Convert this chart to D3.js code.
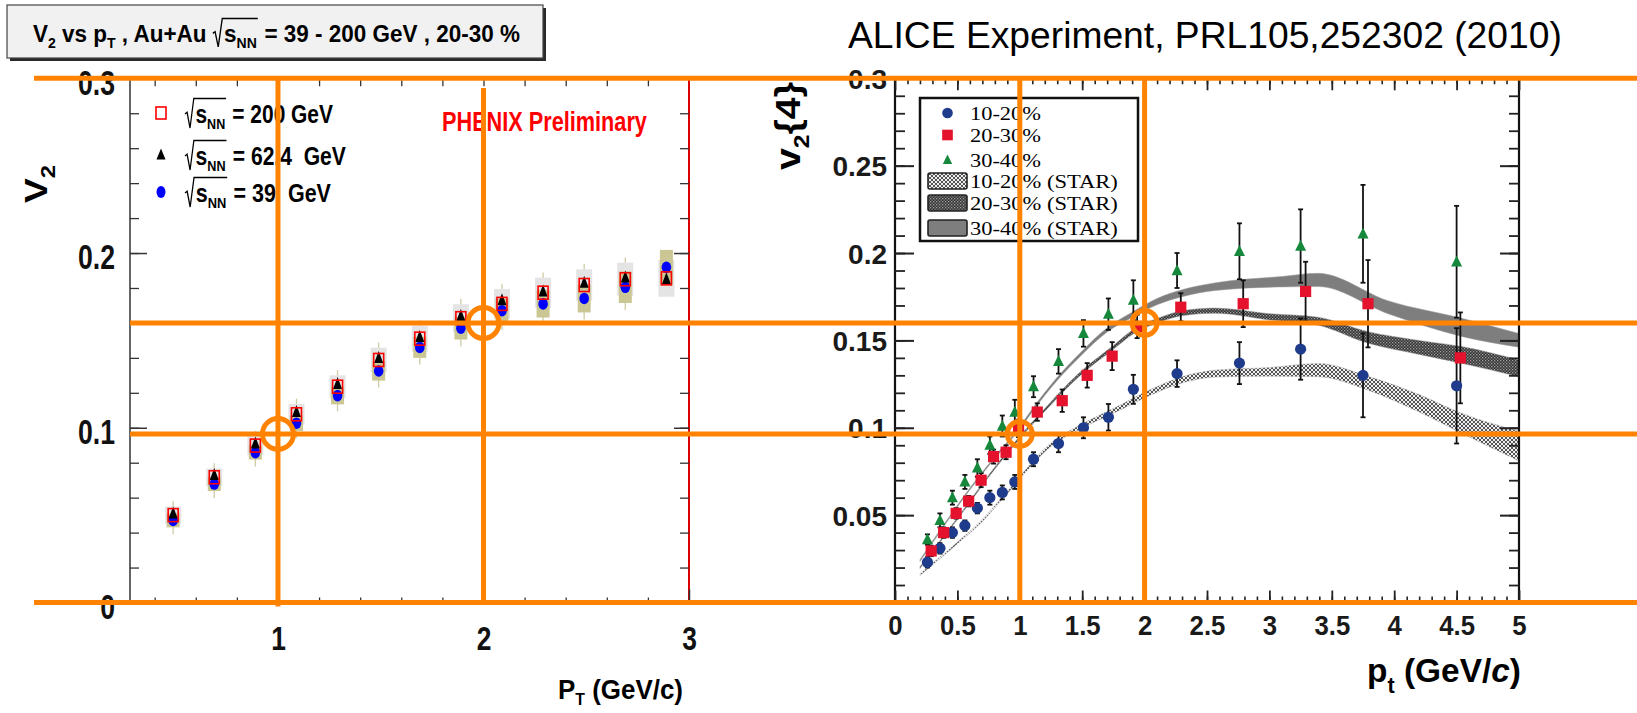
<!DOCTYPE html>
<html><head><meta charset="utf-8">
<script src="https://cdn.jsdelivr.net/npm/d3@7"></script>
<style>body{margin:0;background:#fff}svg{display:block}text{white-space:pre}</style>
</head><body>
<script>
// ---------------- DATA ----------------
// Left panel: PHENIX Au+Au 20-30 %
const phenixPt      = [0.49,0.69,0.89,1.09,1.29,1.49,1.69,1.89,2.09,2.29,2.49,2.69,2.89];
const phenixV2_200  = [0.050,0.0717,0.0898,0.1077,0.1235,0.1388,0.151,0.1627,0.1709,0.1773,0.1817,0.185,0.1855];
const phenixV2_624  = [0.051,0.073,0.091,0.109,0.125,0.140,0.152,0.164,0.173,0.178,0.183,0.186,0.185];
const phenixV2_39   = [0.047,0.0678,0.0858,0.1026,0.1184,0.1325,0.146,0.157,0.167,0.1709,0.174,0.1804,0.1918];
const phenixSysGray = [0.005,0.005,0.0055,0.006,0.0065,0.007,0.0075,0.008,0.0085,0.0086,0.009,0.0095,0.0105];
const phenixSysOlive= [0.004,0.004,0.004,0.0045,0.005,0.0055,0.006,0.0065,0.007,0.0078,0.008,0.009,0.010];
const phenixLegend  = ['200 GeV','62.4  GeV','39  GeV'];
const phenixYTicks  = [0,0.1,0.2,0.3];
const phenixXTicks  = [1,2,3];

// Right panel: ALICE v2{4}
const alicePt       = [0.26,0.36,0.46,0.56,0.66,0.76,0.86,0.96,1.11,1.31,1.51,1.71,1.91,2.26,2.76,3.25,3.75,4.5];
const alicePtRed    = [0.29,0.39,0.49,0.59,0.69,0.79,0.89,0.99,1.14,1.34,1.54,1.74,1.94,2.29,2.79,3.29,3.79,4.53];
const v2_10_20      = [0.023,0.031,0.040,0.044,0.054,0.060,0.063,0.069,0.082,0.091,0.100,0.106,0.122,0.131,0.137,0.145,0.130,0.124];
const err_10_20     = [0.003,0.003,0.003,0.003,0.003,0.004,0.004,0.004,0.004,0.005,0.006,0.0076,0.0083,0.0076,0.012,0.0175,0.024,0.033];
const v2_20_30      = [0.0295,0.040,0.051,0.058,0.070,0.0835,0.086,0.0997,0.109,0.1155,0.130,0.141,0.158,0.169,0.171,0.178,0.171,0.140];
const err_20_30     = [0.003,0.003,0.003,0.003,0.004,0.004,0.004,0.005,0.005,0.0064,0.007,0.008,0.0067,0.008,0.0134,0.017,0.025,0.026];
const v2_30_40      = [0.036,0.047,0.060,0.069,0.077,0.090,0.101,0.109,0.1235,0.138,0.154,0.165,0.173,0.190,0.201,0.204,0.211,0.195];
const err_30_40     = [0.003,0.004,0.004,0.004,0.005,0.005,0.006,0.007,0.006,0.007,0.0076,0.009,0.0114,0.010,0.016,0.021,0.028,0.032];

// STAR bands (centre and half width)
const star10_20_pt = [0.2,0.45,0.7,0.9,1.05,1.22,1.49,1.76,2.03,2.3,2.57,3.0,3.39,3.79,4.2,4.54,5.0];
const star10_20_v  = [0.016,0.031,0.047,0.063,0.0755,0.0885,0.1006,0.110,0.1197,0.1274,0.131,0.132,0.133,0.1255,0.114,0.1026,0.0895];
const star10_20_hw = [0.0005,0.0005,0.0006,0.0007,0.0008,0.001,0.0012,0.0014,0.0016,0.0018,0.002,0.0025,0.0038,0.004,0.005,0.0057,0.0085];
const star20_30_pt = [0.2,0.5,0.8,1.03,1.21,1.47,1.75,1.91,2.13,2.3,2.56,3.0,3.39,3.79,4.2,4.54,5.0];
const star20_30_v  = [0.020,0.048,0.077,0.097,0.111,0.130,0.146,0.155,0.162,0.1655,0.167,0.1635,0.161,0.1517,0.146,0.1417,0.134];
const star20_30_hw = [0.0005,0.0005,0.0006,0.0007,0.0008,0.001,0.0011,0.0012,0.0013,0.0014,0.0015,0.0018,0.0023,0.0033,0.004,0.0048,0.0048];
const star30_40_pt = [0.2,0.4,0.6,0.8,1.0,1.1,1.3,1.5,1.7,1.9,2.1,2.3,2.57,3.1,3.39,3.95,4.54,5.0];
const star30_40_v  = [0.024,0.045,0.065,0.083,0.100,0.110,0.128,0.143,0.156,0.1646,0.1722,0.177,0.1808,0.1836,0.1846,0.169,0.1575,0.150];
const star30_40_hw = [0.0005,0.0005,0.0005,0.0006,0.0007,0.0008,0.0009,0.001,0.0012,0.0015,0.0018,0.002,0.0022,0.003,0.0038,0.0037,0.0052,0.0039];

const aliceLegend = ['10-20%','20-30%','30-40%'];
const starLegend  = ['10-20% (STAR)','20-30% (STAR)','30-40% (STAR)'];
const aliceYTicks = [0.05,0.1,0.15,0.2,0.25,0.3];
const aliceXTicks = [0,0.5,1,1.5,2,2.5,3,3.5,4,4.5,5];

// orange annotation reference points
const refPt = [1,2];
const refV2 = [0.0965,0.160];

// ---------------- SETUP ----------------
const W = 1637, H = 713;
const SANS = "'Liberation Sans', Arial, Helvetica, sans-serif";
const NARROW = "'Liberation Sans Narrow','Arial Narrow','Liberation Sans',Arial,sans-serif";
const SERIF = "'Liberation Serif','Times New Roman',serif";
const ORANGE = '#ff8300';

const svg = d3.select('body').append('svg').attr('width', W).attr('height', H).attr('font-family', SANS);

const xL = d3.scaleLinear().domain([0.28, 3]).range([130, 689]);
const yV = d3.scaleLinear().domain([0, 0.3]).range([602.5, 78.3]);
const xR = d3.scaleLinear().domain([0, 5]).range([895, 1519]);

function measure(txt, family, size, weight) {
  const t = svg.append('text').attr('font-family', family).attr('font-size', size).attr('font-weight', weight).text(txt);
  const w = t.node().getComputedTextLength(); t.remove(); return w;
}
const kN = 37 / measure('0.2', NARROW, 35, 'bold');

function rich(parent, segs, o) {
  const outer = parent.append('g').attr('transform', `translate(${o.x},${o.y})` + (o.rotate ? ` rotate(${o.rotate})` : ''));
  const inner = outer.append('g');
  let cx = 0;
  const put = s => {
    const t = inner.append('text').attr('x', cx).attr('y', s.dy || 0)
      .attr('font-family', s.family || o.family || SANS).attr('font-size', s.size || o.size)
      .attr('font-weight', s.weight || o.weight || 'normal').attr('font-style', s.italic ? 'italic' : 'normal')
      .attr('fill', o.fill || '#000').text(s.t);
    cx += t.node().getComputedTextLength();
  };
  segs.forEach(s => {
    if (s.sqrt) {
      const sz = o.size, x0 = cx;
      cx += sz * 0.5;
      s.sqrt.forEach(put);
      inner.append('path')
        .attr('d', `M${x0},${-0.36*sz}L${x0+0.1*sz},${-0.43*sz}L${x0+0.24*sz},${0.2*sz}L${x0+0.42*sz},${-0.98*sz}L${cx+0.04*sz},${-0.98*sz}`)
        .attr('fill', 'none').attr('stroke', o.fill || '#000').attr('stroke-width', 0.06 * sz);
      cx += 0.06 * sz;
    } else put(s);
  });
  const k = o.width ? o.width / cx : (o.k || 1);
  const shift = o.anchor === 'middle' ? -cx * k / 2 : (o.anchor === 'end' ? -cx * k : 0);
  inner.attr('transform', `translate(${shift},0) scale(${k},1)`);
  return outer;
}

function tickAxis(g, axis, col, sw) {
  g.call(axis); g.select('.domain').remove();
  g.selectAll('.tick line').attr('stroke', col).attr('stroke-width', sw);
  return g;
}

// ---------------- LEFT PANEL ----------------
const gL = svg.append('g');
const [lx0, lx1] = xL.range();
gL.append('rect').attr('x', lx0).attr('y', yV(0.3)).attr('width', lx1 - lx0).attr('height', yV(0) - yV(0.3))
  .attr('fill', '#fff').attr('stroke', '#333').attr('stroke-width', 1.5);
gL.append('line').attr('x1', lx1).attr('x2', lx1).attr('y1', yV(0.3)).attr('y2', yV(0)).attr('stroke', '#d80000').attr('stroke-width', 2);

const phYMinor = d3.range(0.02, 0.3, 0.02);
const phXMinor = d3.range(0.4, 3.0, 0.2);
tickAxis(gL.append('g').attr('transform', `translate(${lx0},0)`), d3.axisLeft(yV).tickValues(phYMinor).tickSize(-9).tickFormat(''), '#333', 1.3);
tickAxis(gL.append('g').attr('transform', `translate(${lx1},0)`), d3.axisRight(yV).tickValues(phYMinor).tickSize(-9).tickFormat(''), '#333', 1.3);
tickAxis(gL.append('g').attr('transform', `translate(${lx1},0)`), d3.axisRight(yV).tickValues(phenixYTicks).tickSize(-15).tickFormat(''), '#333', 1.5);
tickAxis(gL.append('g').attr('transform', `translate(0,${yV(0.3)})`), d3.axisTop(xL).tickValues(phXMinor).tickSize(-8).tickFormat(''), '#333', 1.3);
tickAxis(gL.append('g').attr('transform', `translate(0,${yV(0)})`), d3.axisBottom(xL).tickValues(phXMinor).tickSize(-5).tickFormat(''), '#333', 1.3);

const gLy = tickAxis(gL.append('g').attr('transform', `translate(${lx0},0)`),
  d3.axisLeft(yV).tickValues(phenixYTicks).tickSize(-17).tickPadding(15).tickFormat(d3.format('~g')), '#333', 1.5);
gLy.selectAll('.tick text').attr('font-family', NARROW).attr('font-size', 35).attr('font-weight', 'bold').attr('fill', '#111')
  .attr('dy', '0.45em').attr('transform', `translate(-15,0) scale(${kN},1) translate(15,0)`);
const gLx = tickAxis(gL.append('g').attr('transform', `translate(0,${yV(0)})`),
  d3.axisBottom(xL).tickValues(phenixXTicks).tickSize(-13).tickPadding(24).tickFormat(d3.format('~g')), '#333', 1.5);
gLx.selectAll('.tick text').attr('font-family', NARROW).attr('font-size', 33).attr('font-weight', 'bold').attr('fill', '#111')
  .attr('transform', `scale(${kN * 1.05},1)`);

// systematic boxes
const gBox = gL.append('g');
phenixPt.forEach((p, i) => {
  const v2 = phenixV2_200[i], v3 = phenixV2_39[i], sg = phenixSysGray[i], so = phenixSysOlive[i];
  gBox.append('line').attr('x1', xL(p)).attr('x2', xL(p)).attr('y1', yV(v3 - so - 0.004)).attr('y2', yV(v2 + sg + 0.003))
    .attr('stroke', '#cfcca4').attr('stroke-width', 1.3);
  gBox.append('rect').attr('x', xL(p) - 8).attr('width', 16).attr('y', yV(v2 + sg)).attr('height', yV(v2 - sg) - yV(v2 + sg))
    .attr('fill', '#e4e4e4');
  gBox.append('rect').attr('x', xL(p) - 6.5).attr('width', 13).attr('y', yV(v3 + so)).attr('height', yV(v3 - so) - yV(v3 + so))
    .attr('fill', '#cbc795');
});
const triPath = (x, y, w, h) => `M${x},${y - h * 0.58}L${x + w / 2},${y + h * 0.42}L${x - w / 2},${y + h * 0.42}Z`;
gL.append('g').selectAll('ellipse').data(phenixPt).join('ellipse')
  .attr('cx', d => xL(d)).attr('cy', (d, i) => yV(phenixV2_39[i])).attr('rx', 4.8).attr('ry', 5.8).attr('fill', '#0000ff');
gL.append('g').selectAll('path').data(phenixPt).join('path')
  .attr('d', (d, i) => triPath(xL(d), yV(phenixV2_624[i]), 9, 12)).attr('fill', '#000');
gL.append('g').selectAll('rect').data(phenixPt).join('rect')
  .attr('x', d => xL(d) - 5).attr('y', (d, i) => yV(phenixV2_200[i]) - 6.5).attr('width', 10).attr('height', 13)
  .attr('fill', 'none').attr('stroke', '#ff0000').attr('stroke-width', 1.6);

// left legend
const legRowsL = [123, 165, 202];
legRowsL.forEach((yb, i) => {
  const cy = yb - 10, cx = 161;
  if (i === 0) gL.append('rect').attr('x', cx - 5).attr('y', cy - 6).attr('width', 10).attr('height', 12).attr('fill', 'none').attr('stroke', '#ff0000').attr('stroke-width', 1.6);
  if (i === 1) gL.append('path').attr('d', triPath(cx, cy, 9, 11)).attr('fill', '#000');
  if (i === 2) gL.append('ellipse').attr('cx', cx).attr('cy', cy).attr('rx', 4.5).attr('ry', 6).attr('fill', '#0000ff');
  rich(gL, [{sqrt: [{t: 's'}, {t: 'NN', size: 15, dy: 6}]}, {t: ' = ' + phenixLegend[i]}],
    {x: 185, y: yb, size: 25, weight: 'bold', family: NARROW, width: [148, 161, 146][i]});
});
rich(gL, [{t: 'PHENIX Preliminary'}], {x: 442, y: 131, size: 27, weight: 'bold', family: NARROW, width: 205, fill: '#ff0000'});

// left axis titles
rich(svg, [{t: 'V'}, {t: '2', size: 20, dy: 8}], {x: 47, y: 184, rotate: -90, anchor: 'middle', size: 31, weight: 'bold', family: NARROW, width: 38});
rich(svg, [{t: 'P'}, {t: 'T', size: 17, dy: 6}, {t: ' (GeV/c)'}], {x: 558, y: 699, size: 28, weight: 'bold', family: NARROW, width: 125});

// title box
svg.append('rect').attr('x', 10).attr('y', 8).attr('width', 536).attr('height', 53).attr('fill', '#2a2a2a');
svg.append('rect').attr('x', 7).attr('y', 5).attr('width', 536).attr('height', 53).attr('fill', '#f1f1f1').attr('stroke', '#444').attr('stroke-width', 1.2);
rich(svg, [{t: 'V'}, {t: '2', size: 15, dy: 6}, {t: ' vs p'}, {t: 'T', size: 15, dy: 6}, {t: ' , Au+Au '},
  {sqrt: [{t: 's'}, {t: 'NN', size: 15, dy: 6}]}, {t: ' = 39 - 200 GeV , 20-30 %'}],
  {x: 33, y: 42, size: 24, weight: 'bold', family: NARROW, width: 487});

// ---------------- RIGHT PANEL ----------------
const defs = svg.append('defs');
const p10 = defs.append('pattern').attr('id', 'pat10').attr('patternUnits', 'userSpaceOnUse').attr('width', 4).attr('height', 4);
p10.append('rect').attr('width', 4).attr('height', 4).attr('fill', '#eeeeee');
p10.append('path').attr('d', 'M0,0L4,4M4,0L0,4').attr('stroke', '#444').attr('stroke-width', 0.9);
const p20 = defs.append('pattern').attr('id', 'pat20').attr('patternUnits', 'userSpaceOnUse').attr('width', 3).attr('height', 3);
p20.append('rect').attr('width', 3).attr('height', 3).attr('fill', '#333');
p20.append('rect').attr('x', 0).attr('y', 0).attr('width', 1.3).attr('height', 1.3).attr('fill', '#a0a0a0');
p20.append('rect').attr('x', 1.5).attr('y', 1.5).attr('width', 1.3).attr('height', 1.3).attr('fill', '#8a8a8a');
const bandFills = ['url(#pat10)', 'url(#pat20)', '#7e7e7e'];

const gR = svg.append('g');
const [rx0, rx1] = xR.range();
gR.append('rect').attr('x', rx0).attr('y', yV(0.3)).attr('width', rx1 - rx0).attr('height', yV(0) - yV(0.3)).attr('fill', '#fff');

const bandArea = d3.area().x(d => xR(d.pt)).y0(d => yV(d.v - d.hw)).y1(d => yV(d.v + d.hw)).curve(d3.curveMonotoneX);
const bands = [
  star10_20_pt.map((p, i) => ({pt: p, v: star10_20_v[i], hw: star10_20_hw[i]})),
  star20_30_pt.map((p, i) => ({pt: p, v: star20_30_v[i], hw: star20_30_hw[i]})),
  star30_40_pt.map((p, i) => ({pt: p, v: star30_40_v[i], hw: star30_40_hw[i]}))
];
bands.forEach((b, i) => gR.append('path').attr('d', bandArea(b)).attr('fill', bandFills[i])
  .attr('stroke', ['#bbb', '#999', '#9a9a9a'][i]).attr('stroke-width', 0.5));

const series = [
  {pt: alicePt, v: v2_10_20, e: err_10_20, col: '#1f3c8c', shape: 'circle'},
  {pt: alicePtRed, v: v2_20_30, e: err_20_30, col: '#e4122c', shape: 'square'},
  {pt: alicePt, v: v2_30_40, e: err_30_40, col: '#15883c', shape: 'triangle'}
];
const gErr = gR.append('g').attr('stroke', '#111').attr('stroke-width', 1.8);
series.forEach(s => s.pt.forEach((p, i) => {
  const x = xR(p), y1 = yV(s.v[i] - s.e[i]), y2 = yV(s.v[i] + s.e[i]);
  gErr.append('line').attr('x1', x).attr('x2', x).attr('y1', y1).attr('y2', y2);
  gErr.append('line').attr('x1', x - 2.5).attr('x2', x + 2.5).attr('y1', y1).attr('y2', y1);
  gErr.append('line').attr('x1', x - 2.5).attr('x2', x + 2.5).attr('y1', y2).attr('y2', y2);
}));
function marker(g, shape, x, y, col, s) {
  if (shape === 'circle') g.append('circle').attr('cx', x).attr('cy', y).attr('r', 5.6 * s).attr('fill', col);
  else if (shape === 'square') g.append('rect').attr('x', x - 5.6 * s).attr('y', y - 5.6 * s).attr('width', 11.2 * s).attr('height', 11.2 * s).attr('fill', col);
  else g.append('path').attr('d', triPath(x, y, 11 * s, 11 * s)).attr('fill', col);
}
const gMk = gR.append('g');
series.forEach(s => s.pt.forEach((p, i) => marker(gMk, s.shape, xR(p), yV(s.v[i]), s.col, 1)));

// frame and ticks
gR.append('rect').attr('x', rx0).attr('y', yV(0.3)).attr('width', rx1 - rx0).attr('height', yV(0) - yV(0.3))
  .attr('fill', 'none').attr('stroke', '#111').attr('stroke-width', 2.2);
const alYMinor = d3.range(0.01, 0.3, 0.01);
const alXMinor = d3.range(0.1, 5, 0.1);
tickAxis(gR.append('g').attr('transform', `translate(${rx0},0)`), d3.axisLeft(yV).tickValues(alYMinor).tickSize(-10).tickFormat(''), '#222', 1.8);
tickAxis(gR.append('g').attr('transform', `translate(${rx1},0)`), d3.axisRight(yV).tickValues(alYMinor).tickSize(-10).tickFormat(''), '#222', 1.8);
tickAxis(gR.append('g').attr('transform', `translate(${rx1},0)`), d3.axisRight(yV).tickValues(aliceYTicks).tickSize(-19).tickFormat(''), '#222', 2);
tickAxis(gR.append('g').attr('transform', `translate(0,${yV(0.3)})`), d3.axisTop(xR).tickValues(alXMinor).tickSize(-6).tickFormat(''), '#222', 1.6);
tickAxis(gR.append('g').attr('transform', `translate(0,${yV(0.3)})`), d3.axisTop(xR).tickValues(aliceXTicks).tickSize(-12).tickFormat(''), '#222', 1.8);
tickAxis(gR.append('g').attr('transform', `translate(0,${yV(0)})`), d3.axisBottom(xR).tickValues(alXMinor).tickSize(-6).tickFormat(''), '#222', 1.6);
const gRy = tickAxis(gR.append('g').attr('transform', `translate(${rx0},0)`),
  d3.axisLeft(yV).tickValues(aliceYTicks).tickSize(-19).tickPadding(8).tickFormat(d3.format('~g')), '#222', 2);
gRy.selectAll('.tick text').attr('font-family', SANS).attr('font-size', 28).attr('font-weight', 'bold').attr('fill', '#1a1a1a').attr('dy', '0.36em');
const gRx = tickAxis(gR.append('g').attr('transform', `translate(0,${yV(0)})`),
  d3.axisBottom(xR).tickValues(aliceXTicks).tickSize(-12).tickPadding(13).tickFormat(d3.format('~g')), '#222', 1.8);
gRx.selectAll('.tick text').attr('font-family', SANS).attr('font-size', 28).attr('font-weight', 'bold').attr('fill', '#1a1a1a')
  .attr('transform', 'scale(0.92,1)');

// right legend
const gLeg = gR.append('g');
gLeg.append('rect').attr('x', 920).attr('y', 98).attr('width', 218).attr('height', 143).attr('fill', '#fff').attr('stroke', '#111').attr('stroke-width', 2.5);
const legRowsR = [113, 135, 160, 181, 203, 228];
series.forEach((s, i) => {
  marker(gLeg, s.shape, 947.5, legRowsR[i], s.col, i === 2 ? 0.85 : 0.95);
  rich(gLeg, [{t: aliceLegend[i]}], {x: 970, y: legRowsR[i] + 6.5, size: 19, family: SERIF, width: 71});
});
starLegend.forEach((t, i) => {
  const cy = legRowsR[i + 3];
  gLeg.append('rect').attr('x', 928).attr('y', cy - 8).attr('width', 39).attr('height', 16).attr('rx', 2)
    .attr('fill', bandFills[i]).attr('stroke', '#222').attr('stroke-width', 1.6);
  rich(gLeg, [{t: t}], {x: 970, y: cy + 6.5, size: 19, family: SERIF, width: 148});
});

// right titles
rich(svg, [{t: 'ALICE Experiment, PRL105,252302 (2010)'}], {x: 848, y: 48, size: 36, width: 714});
rich(svg, [{t: 'v'}, {t: '2', size: 22, dy: 9}, {t: '{4}'}], {x: 800, y: 126, rotate: -90, anchor: 'middle', size: 35, weight: 'bold', width: 88});
rich(svg, [{t: 'p'}, {t: 't', size: 22, dy: 11}, {t: ' (GeV/'}, {t: 'c', italic: true}, {t: ')'}], {x: 1367, y: 682, size: 34, weight: 'bold', width: 154});

// ---------------- ORANGE OVERLAY ----------------
const gO = svg.append('g').attr('stroke', ORANGE).attr('stroke-width', 5).attr('fill', 'none');
[0.3, 0].forEach(v => gO.append('line').attr('x1', 34).attr('x2', W).attr('y1', yV(v)).attr('y2', yV(v)));
refV2.forEach(v => gO.append('line').attr('x1', lx0).attr('x2', W).attr('y1', yV(v)).attr('y2', yV(v)));
refPt.forEach((p, i) => {
  gO.append('line').attr('x1', xL(p)).attr('x2', xL(p)).attr('y1', i === 0 ? yV(0.3) : 88).attr('y2', yV(0) + (i === 0 ? 4 : 0));
  gO.append('line').attr('x1', xR(p)).attr('x2', xR(p)).attr('y1', yV(0.3)).attr('y2', yV(0));
  gO.append('circle').attr('cx', xL(p)).attr('cy', yV(refV2[i])).attr('r', 15.5);
  gO.append('circle').attr('cx', xR(p)).attr('cy', yV(refV2[i])).attr('r', 12.5);
});
</script>
</body></html>
